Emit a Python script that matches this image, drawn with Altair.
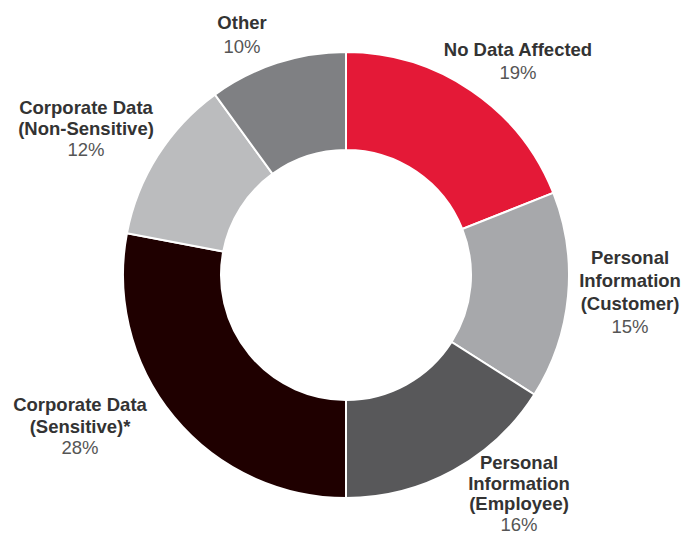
import altair as alt
import pandas as pd

categories = [
    "No Data Affected",
    "Personal Information (Customer)",
    "Personal Information (Employee)",
    "Corporate Data (Sensitive)*",
    "Corporate Data (Non-Sensitive)",
    "Other",
]
values = [19, 15, 16, 28, 12, 10]
colors = ["#E41937", "#A7A8AB", "#58585A", "#1F0000", "#BBBCBE", "#7F8083"]

# label text lines (name lines, then percentage)
label_names = [
    ["No Data Affected"],
    ["Personal", "Information", "(Customer)"],
    ["Personal", "Information", "(Employee)"],
    ["Corporate Data", "(Sensitive)*"],
    ["Corporate Data", "(Non-Sensitive)"],
    ["Other"],
]
# label block anchors (layout, in pixels of the view)
label_x = [510, 622, 511, 72, 78, 234]
label_top = [42, 250, 455, 397, 100, 15]
line_h = [23, 23, 20.7, 21.5, 21, 24]

df = pd.DataFrame({"category": categories, "value": values, "order": list(range(len(values)))})

rows = []
for i, names in enumerate(label_names):
    for j, n in enumerate(names):
        rows.append({"t": n, "x": label_x[i], "y": label_top[i] + j * line_h[i], "kind": "name"})
    rows.append({"t": f"{values[i]}%", "x": label_x[i], "y": label_top[i] + len(names) * line_h[i], "kind": "pct"})
lab = pd.DataFrame(rows)

arc = alt.Chart(df).mark_arc(innerRadius=125, outerRadius=223, stroke="white", strokeWidth=2).encode(
    theta=alt.Theta("value:Q", stack=True),
    order=alt.Order("order:Q"),
    color=alt.Color("category:N", scale=alt.Scale(domain=categories, range=colors), legend=None),
    x=alt.value(338),
    y=alt.value(267),
)

names_layer = alt.Chart(lab[lab.kind == "name"]).mark_text(
    font="Liberation Sans", fontSize=18.5, fontWeight="bold", color="#333333", baseline="middle", align="center"
).encode(x=alt.X("x:Q", scale=None), y=alt.Y("y:Q", scale=None), text="t:N")

pct_layer = alt.Chart(lab[lab.kind == "pct"]).mark_text(
    font="Liberation Sans", fontSize=18.5, color="#555555", baseline="middle", align="center"
).encode(x=alt.X("x:Q", scale=None), y=alt.Y("y:Q", scale=None), text="t:N")

chart = alt.layer(arc, names_layer, pct_layer).properties(
    width=675, height=529, autosize=alt.AutoSizeParams(type="none"), padding=0
).configure_view(stroke=None)

chart.save("out.html", embed_options={"renderer": "svg", "actions": False})
